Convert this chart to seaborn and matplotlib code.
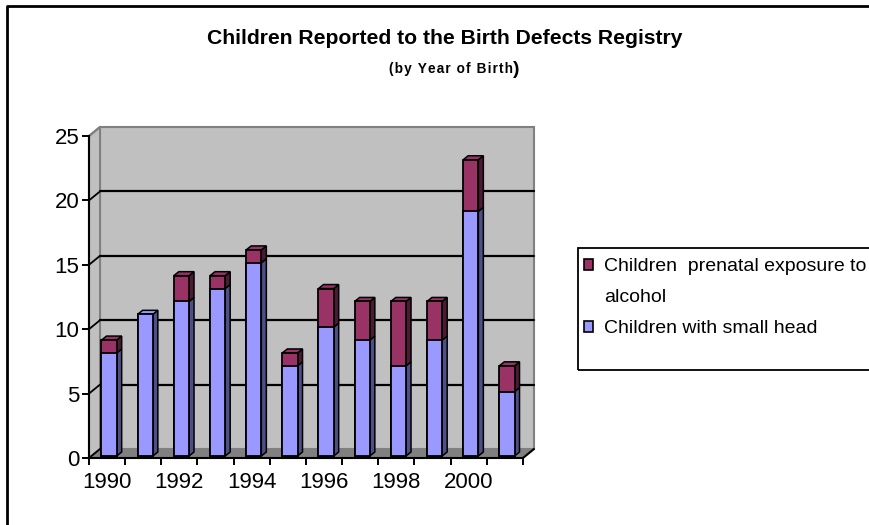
import numpy as np
import pandas as pd
import seaborn as sns
import matplotlib.pyplot as plt
from matplotlib.patches import Polygon, Rectangle, Patch
from matplotlib.lines import Line2D
from matplotlib.transforms import offset_copy

# data
years = ["1990", "1991", "1992", "1993", "1994", "1995",
         "1996", "1997", "1998", "1999", "2000", "2001"]
small_head = [8, 11, 12, 13, 15, 7, 10, 9, 7, 9, 19, 5]
alcohol = [1, 0, 2, 1, 1, 1, 3, 3, 5, 3, 4, 2]
y_ticks = [0, 5, 10, 15, 20, 25]
x_labels = ["1990", "1992", "1994", "1996", "1998", "2000"]

# colours
blue = "#9999FF"
blue_side = "#4F4F87"
red = "#993366"
red_side = "#4D1A33"
wall = "#C0C0C0"
floor = "#808080"

sns.set_theme(style="white")
plt.rcParams["font.family"] = ["Liberation Sans", "DejaVu Sans"]
plt.rcParams["text.color"] = "black"

W, H = 870, 525
fig = plt.figure(figsize=(W / 100, H / 100), dpi=100)

# front plane of the 3d box, in pixels
x0, x1, yb, yt = 89, 523, 458, 136
ax = fig.add_axes([x0 / W, 1 - yb / H, (x1 - x0) / W, (yb - yt) / H])
ax.patch.set_alpha(0)

df = pd.DataFrame({"year": years, "small": small_head,
                   "total": np.add(small_head, alcohol)})

sns.barplot(data=df, x="year", y="total", order=years, color=red, saturation=1,
            width=0.42, edgecolor="black", linewidth=1.3, ax=ax, zorder=4)
sns.barplot(data=df, x="year", y="small", order=years, color=blue, saturation=1,
            width=0.42, edgecolor="black", linewidth=1.3, ax=ax, zorder=5)
bars = list(ax.patches)
n = len(years)

ax.set_xlim(-0.5, n - 0.5)
ax.set_ylim(0, 25)
ax.set_xlabel("")
ax.set_ylabel("")

# pixel -> data units
ux = n / (x1 - x0)
uy = 25 / (yb - yt)
wx, wy = 11 * ux, 9 * uy      # back wall depth
bx, by = 5 * ux, 4 * uy       # bar depth

# back wall, side wall, floor
lo, hi = -0.5, n - 0.5
ax.add_patch(Polygon([(lo + wx, wy), (hi + wx, wy), (hi + wx, 25 + wy), (lo + wx, 25 + wy)],
                     closed=True, fc=wall, ec=floor, lw=1.5, zorder=0, clip_on=False))
ax.add_patch(Polygon([(lo, 0), (lo + wx, wy), (lo + wx, 25 + wy), (lo, 25)],
                     closed=True, fc=wall, ec=floor, lw=1.5, zorder=0.2, clip_on=False))
ax.add_patch(Polygon([(lo, 0), (hi, 0), (hi + wx, wy), (lo + wx, wy)],
                     closed=True, fc=floor, ec="none", zorder=0.5, clip_on=False))
for v in y_ticks[1:-1]:
    ax.plot([lo + wx, hi + wx], [v + wy, v + wy], color="black", lw=1.6, zorder=1, clip_on=False)
for v in y_ticks[:-1]:
    ax.plot([lo, lo + wx], [v, v + wy], color="black", lw=1.3, zorder=1, clip_on=False)
ax.plot([lo, lo + wx], [25, 25 + wy], color=floor, lw=1.5, zorder=1, clip_on=False)
ax.plot([hi, hi + wx], [0, wy], color="black", lw=1.5, zorder=1, clip_on=False)

# bars sit a bit into the box
trans = offset_copy(ax.transData, fig=fig, x=2, y=2, units="dots")
for p in bars:
    p.set_transform(trans)

for i, p in enumerate(bars[n:]):
    x, w = p.get_x(), p.get_width()
    s = small_head[i]
    t = s + alcohol[i]
    faces = [([(x + w, 0), (x + w + bx, by), (x + w + bx, s + by), (x + w, s)], blue_side)]
    if alcohol[i] > 0:
        faces.append(([(x + w, s), (x + w + bx, s + by), (x + w + bx, t + by), (x + w, t)], red_side))
    top_col = red if alcohol[i] > 0 else blue
    faces.append(([(x, t), (x + w, t), (x + w + bx, t + by), (x + bx, t + by)], top_col))
    for pts, col in faces:
        ax.add_patch(Polygon(pts, closed=True, fc=col, ec="black", lw=1.1,
                             transform=trans, zorder=3, clip_on=False))

# axes, ticks
for side in ["top", "right"]:
    ax.spines[side].set_visible(False)
for side in ["left", "bottom"]:
    ax.spines[side].set_color("black")
    ax.spines[side].set_linewidth(1.5)
    ax.spines[side].set_zorder(6)

ax.set_yticks(y_ticks)
ax.tick_params(axis="y", left=True, length=5, width=1.4, color="black",
               labelsize=16, pad=2, labelcolor="black")
ax.set_xticks(np.arange(lo, hi + 0.01, 1))
ax.set_xticklabels([])
ax.set_xticks([years.index(l) for l in x_labels], minor=True)
ax.set_xticklabels(x_labels, minor=True)
ax.tick_params(axis="x", which="major", bottom=True, length=5, width=1.4, color="black")
ax.tick_params(axis="x", which="minor", bottom=True, length=0, pad=10,
               labelsize=16, labelcolor="black")

# titles
fig.text(445 / W, 1 - 38 / H, "Children Reported to the Birth Defects Registry",
         ha="center", va="center", fontsize=15.2, fontweight="bold")
fig.text(513 / W, 1 - 69 / H, "\u200a".join("(by Year of Birth"),
         ha="right", va="center", fontsize=9.8, fontweight="bold")
fig.text(513 / W, 1 - 69 / H, ")", ha="left", va="center", fontsize=14, fontweight="bold")

# legend
fig.add_artist(Rectangle((578 / W, 1 - 370 / H), 300 / W, 122 / H, transform=fig.transFigure,
                         fill=False, ec="black", lw=1.3))
handles = [Patch(fc=red, ec="black", lw=1.2, label="Children  prenatal exposure to"),
           Patch(fc="none", ec="none", label="alcohol"),
           Patch(fc=blue, ec="black", lw=1.2, label="Children with small head")]
fig.legend(handles=handles, loc="upper left", bbox_to_anchor=(584 / W, 1 - 258 / H),
           frameon=False, fontsize=14, handlelength=0.48, handleheight=0.48,
           handletextpad=0.55, labelspacing=0.72, borderpad=0, borderaxespad=0)

# outer border (only left and top show)
fig.add_artist(Line2D([7 / W, 7 / W, 1], [0, 1 - 6 / H, 1 - 6 / H],
                      transform=fig.transFigure, color="black", lw=2))

fig.savefig("out.png", dpi=100)
